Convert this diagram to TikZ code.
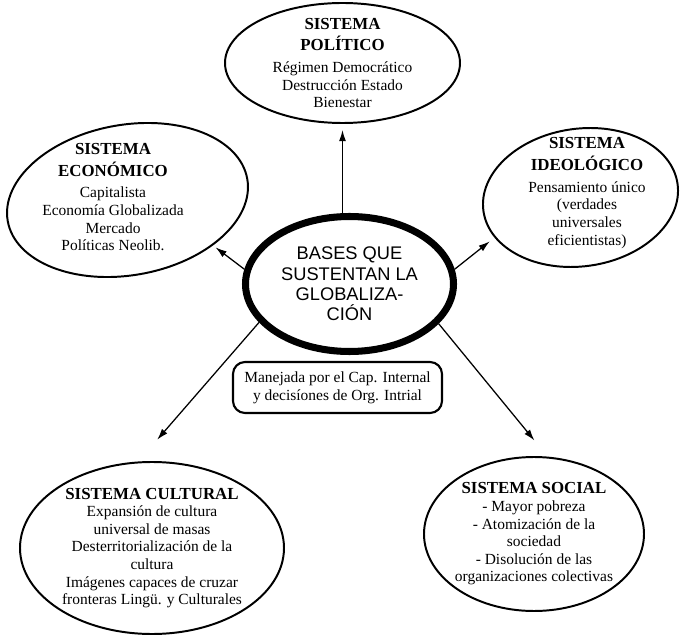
\documentclass[tikz,border=0pt]{standalone}
\usepackage{fontspec}
\setmainfont{Liberation Serif}
\newfontfamily\centralfont{Liberation Sans}
\usetikzlibrary{shapes.geometric, arrows.meta}
\tikzset{flecha/.style={->, >={Latex[length=8pt,width=5pt]}, line width=0.9pt}}
\tikzset{sistema/.style={ellipse, draw, line width=1.4pt, inner sep=-20pt, align=center, font=\fontsize{11}{12.5}\selectfont}}
\tikzset{texto/.style={align=center, font=\fontsize{11}{12.5}\selectfont}}
\newcommand{\titulo}[1]{{\fontsize{12}{15}\selectfont\bfseries #1}}

\begin{document}
\begin{tikzpicture}
  \useasboundingbox (0,0) rectangle (17,15.925);

  % --- centro ---
  \node[ellipse, draw, line width=5pt, minimum width=5.2cm, minimum height=3.375cm, inner sep=-20pt,
        align=center, font=\centralfont\fontsize{13}{14.5}\selectfont] (central) at (8.7375,8.825)
        {BASES QUE\\SUSTENTAN LA\\GLOBALIZA-\\CIÓN};
  \node[draw, rounded corners=0.3cm, line width=1.5pt, minimum width=5.225cm, minimum height=1.275cm,
        align=center, font=\fontsize{11}{13}\selectfont] (caja) at (8.4375,6.2375)
        {Manejada por el Cap. Internal\\y decisíones de Org. Intrial};

  % --- sistemas de arriba ---
  \node[sistema, minimum width=5.875cm, minimum height=3cm] (politico) at (8.5625,14.35)
        {\titulo{SISTEMA}\\[3pt]\titulo{POLÍTICO}\\[3pt]Régimen Democrático\\Destrucción Estado\\Bienestar};

  \node[sistema, rotate=10, minimum width=6.08cm, minimum height=3.76cm] (economico) at (3.1875,10.925) {};
  \node[texto] (economicotexto) at (2.825,11.0)
        {\titulo{SISTEMA}\\[3pt]\titulo{ECONÓMICO}\\[3pt]Capitalista\\Economía Globalizada\\Mercado\\Políticas Neolib.};

  \node[sistema, rotate=8, minimum width=4.9cm, minimum height=3.44cm] (ideologico) at (14.5125,10.9875) {};
  \node[texto] (ideologicotexto) at (14.675,11.1)
        {\titulo{SISTEMA}\\[3pt]\titulo{IDEOLÓGICO}\\[3pt]Pensamiento único\\(verdades\\universales\\eficientistas)};

  % --- sistemas de abajo ---
  \node[sistema, minimum width=6.6cm, minimum height=4.3cm] (cultural) at (3.8,2.225)
        {\titulo{SISTEMA CULTURAL}\\Expansión de cultura\\universal de masas\\Desterritorialización de la\\cultura\\Imágenes capaces de cruzar\\fronteras Lingü. y Culturales};
  \node[sistema, minimum width=5.5cm, minimum height=3.85cm] (social) at (13.35,2.575)
        {\titulo{SISTEMA SOCIAL}\\- Mayor pobreza\\- Atomización de la\\sociedad\\- Disolución de las\\organizaciones colectivas};

  % --- flechas ---
  \draw[flecha, shorten >=0.15cm] (central.north -| politico.south) -- (politico.south);
  \draw[flecha, shorten >=0.08cm] (central.172) -- (economico.322);
  \draw[flecha, shorten >=0.15cm] (central.8) -- (ideologico.197);
  \draw[flecha, shorten >=0.72cm] (central.203) -- (cultural.99);
  \draw[flecha, shorten >=0.52cm] (central.336) -- (social.80);
\end{tikzpicture}
\end{document}
